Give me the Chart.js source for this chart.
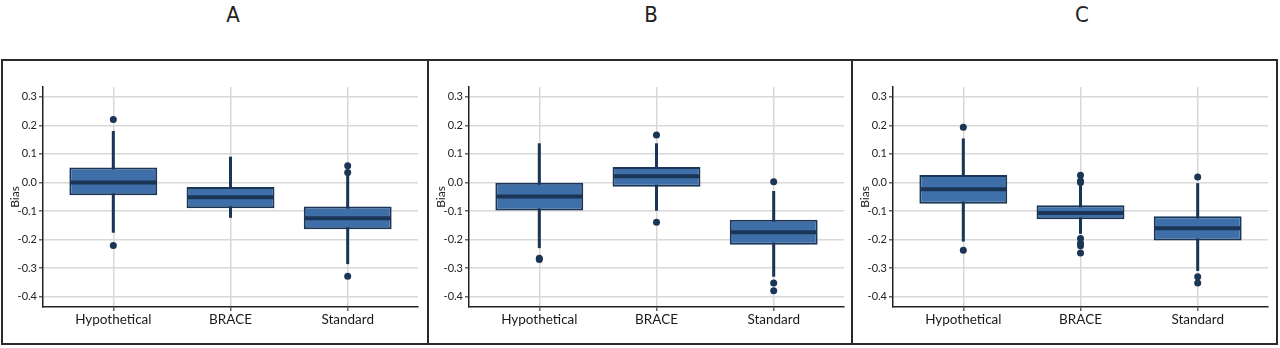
<!DOCTYPE html>
<html>
<head>
<meta charset="utf-8">
<script src="https://cdn.jsdelivr.net/npm/chart.js@4.4.1/dist/chart.umd.min.js"></script>
<style>
  html, body { margin: 0; padding: 0; background: #fff; }
  body { width: 1280px; height: 348px; position: relative; overflow: hidden; }
  .ttl { position: absolute; top: 2px; width: 40px; margin-left: -20px; text-align: center;
         font-family: "Liberation Sans Narrow", "DejaVu Sans Condensed", "DejaVu Sans", sans-serif;
         font-stretch: condensed; font-size: 22px; color: #222; line-height: 26px; }
  .panel { position: absolute; top: 59px; height: 286px; box-sizing: border-box; border: 2px solid #2a2a2a; }
  .panel canvas { position: absolute; left: 0; top: 0; }
</style>
</head>
<body>
<div class="ttl" style="left:233px">A</div>
<div class="ttl" style="left:651px">B</div>
<div class="ttl" style="left:1082px">C</div>
<div class="panel" style="left:1px;width:428px"><canvas id="cA" width="422" height="282"></canvas></div>
<div class="panel" style="left:427px;width:426px"><canvas id="cB" width="422" height="282"></canvas></div>
<div class="panel" style="left:851px;width:427px"><canvas id="cC" width="422" height="282"></canvas></div>
<script>
const categories = ['Hypothetical', 'BRACE', 'Standard'];
const yTicks = [-0.4, -0.3, -0.2, -0.1, 0.0, 0.1, 0.2, 0.3];
const yAxisTitle = 'Bias';

// Panel A
const A_lowerWhisker = [-0.176, -0.124, -0.286];
const A_q1           = [-0.045, -0.090, -0.164];
const A_median       = [ 0.000, -0.052, -0.125];
const A_q3           = [ 0.052, -0.016, -0.084];
const A_upperWhisker = [ 0.180,  0.090,  0.030];
const A_outliers     = [[0.220, -0.221], [], [0.058, 0.035, -0.328]];

// Panel B
const B_lowerWhisker = [-0.230, -0.099, -0.330];
const B_q1           = [-0.098, -0.015, -0.218];
const B_median       = [-0.049,  0.022, -0.174];
const B_q3           = [-0.001,  0.054, -0.131];
const B_upperWhisker = [ 0.137,  0.137, -0.030];
const B_outliers     = [[-0.265, -0.270], [0.166, -0.139], [0.002, -0.352, -0.379]];

// Panel C
const C_lowerWhisker = [-0.207, -0.180, -0.310];
const C_q1           = [-0.075, -0.129, -0.203];
const C_median       = [-0.024, -0.107, -0.160];
const C_q3           = [ 0.026, -0.080, -0.118];
const C_upperWhisker = [ 0.154, -0.010,  0.000];
const C_outliers     = [[0.193, -0.237], [0.025, 0.005, 0.000, -0.196, -0.213, -0.222, -0.247], [0.019, -0.330, -0.352]];

const BOX_FILL = '#3f6fa8';
const DARK = '#1b3556';
const BOX_WIDTH = 0.75;
const FONT = 'Lato, "Open Sans", sans-serif';

function makeChart(id, lw, q1, med, q3, uw, outs) {
  const pos = categories.map((c, i) => i + 1);
  const outPts = [];
  outs.forEach((arr, i) => arr.forEach(v => outPts.push({ x: pos[i], y: v })));
  new Chart(document.getElementById(id), {
    type: 'bar',
    data: {
      datasets: [
        { type: 'scatter', data: outPts, pointRadius: 3.5, pointBackgroundColor: DARK,
          pointBorderWidth: 0, order: 0 },
        { type: 'scatter', data: pos.map((x, i) => ({ x: x, y: med[i] })), pointStyle: 'line',
          pointRadius: (ctx) => { const s = ctx.chart.scales.x; return Math.abs(s.getPixelForValue(BOX_WIDTH / 2) - s.getPixelForValue(0)) - 1; },
          pointBorderColor: DARK, pointBorderWidth: 4, order: 1 },
        { type: 'bar', data: pos.map((x, i) => ({ x: x, y: [q1[i], q3[i]] })), backgroundColor: BOX_FILL,
          borderColor: DARK, borderWidth: 2, borderSkipped: false, grouped: false,
          barPercentage: BOX_WIDTH, categoryPercentage: 1, order: 2 },
        { type: 'bar', data: pos.map((x, i) => ({ x: x, y: [lw[i], uw[i]] })), backgroundColor: DARK,
          borderWidth: 0, grouped: false, barPercentage: 0.026, categoryPercentage: 1, order: 3 }
      ]
    },
    options: {
      responsive: false, animation: false, devicePixelRatio: 1,
      layout: { padding: { top: 26, right: 7, left: 0, bottom: 0 } },
      plugins: { legend: { display: false }, tooltip: { enabled: false } },
      scales: {
        x: {
          type: 'linear', min: 0.4, max: 3.6, offset: false,
          afterBuildTicks: (s) => { s.ticks = pos.map(v => ({ value: v })); },
          afterFit: (s) => { s.height = 36; },
          ticks: { callback: (v) => categories[v - 1] || '', color: '#1a1a1a', padding: 1,
                   font: { family: FONT, size: 13.5 }, maxRotation: 0 },
          grid: { offset: false, color: '#d8d8d8', lineWidth: 1.5, tickLength: 4, tickColor: '#666' },
          border: { display: true, color: '#222', width: 1.5 }
        },
        y: {
          min: -0.436, max: 0.334,
          afterBuildTicks: (s) => { s.ticks = yTicks.map(v => ({ value: v })); },
          afterFit: (s) => { s.width = 40; },
          ticks: { callback: (v) => v.toFixed(1), color: '#222', padding: 2,
                   font: { family: FONT, size: 11 } },
          title: { display: true, text: yAxisTitle, color: '#222', padding: { top: 5, bottom: 0 },
                   font: { family: FONT, size: 12 } },
          grid: { color: '#d8d8d8', lineWidth: 1.5, tickLength: 4, tickColor: '#666' },
          border: { display: true, color: '#222', width: 1.5 }
        }
      }
    }
  });
}

makeChart('cA', A_lowerWhisker, A_q1, A_median, A_q3, A_upperWhisker, A_outliers);
makeChart('cB', B_lowerWhisker, B_q1, B_median, B_q3, B_upperWhisker, B_outliers);
makeChart('cC', C_lowerWhisker, C_q1, C_median, C_q3, C_upperWhisker, C_outliers);
</script>
</body>
</html>
